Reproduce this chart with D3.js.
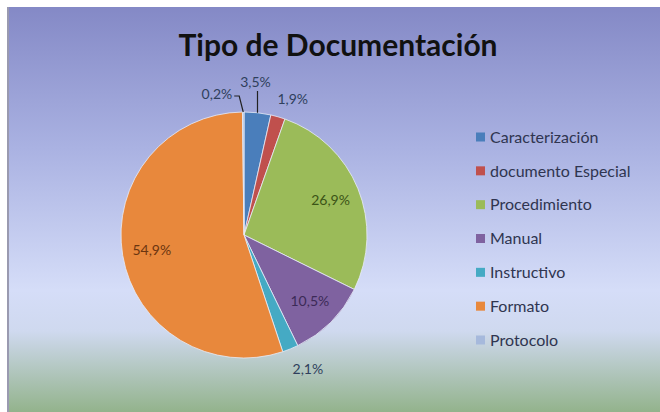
<!DOCTYPE html>
<html>
<head>
<meta charset="utf-8">
<script src="https://cdn.jsdelivr.net/npm/d3@7"></script>
<style>
  body { margin: 0; background: #fff; }
  svg { display: block; font-family: Lato, "Open Sans", sans-serif; }
</style>
</head>
<body>
<div id="chart"></div>
<script>
const categories = ["Caracterización", "documento Especial", "Procedimiento", "Manual", "Instructivo", "Formato", "Protocolo"]
const values = [3.5, 1.9, 26.9, 10.5, 2.1, 54.9, 0.2]
const colors = ["#4a7ebb", "#c0504d", "#9bbb59", "#7f62a0", "#45aac4", "#e8883c", "#a6b9dc"]
const labelColors = ["#2f3f5c", "#2f3f5c", "#3b5417", "#3c2a57", "#2f3f5c", "#6b3510", "#2f3f5c"]
const title = "Tipo de Documentación"

const width = 660
const height = 412
const cx = 244, cy = 235, r = 123

const svg = d3.select("#chart")
    .append("svg")
    .attr("width", width)
    .attr("height", height)

const defs = svg.append("defs")
const bg = defs.append("linearGradient")
    .attr("id", "bg-gradient")
    .attr("x1", "0%").attr("y1", "0%")
    .attr("x2", "0%").attr("y2", "100%")
bg.append("stop").attr("offset", "0%").attr("stop-color", "#8489c6")
bg.append("stop").attr("offset", "35%").attr("stop-color", "#aab2e2")
bg.append("stop").attr("offset", "70%").attr("stop-color", "#d5ddf8")
bg.append("stop").attr("offset", "80%").attr("stop-color", "#cfd9ef")
bg.append("stop").attr("offset", "100%").attr("stop-color", "#93b38c")

svg.append("rect")
    .attr("x", 7)
    .attr("y", 7)
    .attr("width", width - 7)
    .attr("height", height - 7)
    .style("fill", "url(#bg-gradient)")
svg.append("line")
    .attr("x1", 8).attr("x2", 8)
    .attr("y1", 7).attr("y2", height)
    .attr("stroke", "#9a9ab0")
    .attr("stroke-width", 2)

svg.append("text")
    .text(title)
    .attr("x", 338)
    .attr("y", 56)
    .attr("text-anchor", "middle")
    .attr("font-size", 30)
    .attr("font-weight", "bold")
    .attr("fill", "#111")

const pie = d3.pie().sort(null).value(d => d)
const arcs = pie(values)
const arc = d3.arc().innerRadius(0).outerRadius(r)

const g = svg.append("g").attr("transform", `translate(${cx},${cy})`)

g.selectAll("path")
    .data(arcs)
    .join("path")
    .attr("d", arc)
    .attr("fill", (d, i) => colors[i])
    .attr("stroke", "#e8ecf8")
    .attr("stroke-width", 0.8)

const fmt = v => d3.format(".1f")(v).replace(".", ",") + "%"
const mid = d => (d.startAngle + d.endAngle) / 2
const pt = (a, rr) => [Math.sin(a) * rr, -Math.cos(a) * rr]

// labels inside the big slices
const inside = [2, 3, 5]
inside.forEach(i => {
    const p = pt(mid(arcs[i]), r * 0.76)
    g.append("text")
        .text(fmt(values[i]))
        .attr("x", p[0])
        .attr("y", p[1])
        .attr("dy", "0.35em")
        .attr("text-anchor", "middle")
        .attr("font-size", 14)
        .attr("fill", labelColors[i])
})

// outside labels
const lbl = (i, x, y, anchor) => g.append("text")
    .text(fmt(values[i]))
    .attr("x", x)
    .attr("y", y)
    .attr("dy", "0.35em")
    .attr("text-anchor", anchor)
    .attr("font-size", 14)
    .attr("fill", labelColors[i])

// 3,5% with vertical leader
let e = pt(mid(arcs[0]), r)
g.append("path")
    .attr("d", `M${e[0]},${e[1]}V${-r - 21}`)
    .attr("stroke", "#222").attr("fill", "none").attr("stroke-width", 1.2)
lbl(0, e[0] - 2, -r - 30, "middle")

// 1,9%
let p1 = pt(mid(arcs[1]), r + 20)
lbl(1, p1[0] - 6, p1[1] + 2, "start")

// 2,1%
let p4 = pt(mid(arcs[4]), r + 20)
lbl(4, p4[0] + 10, p4[1] + 2, "middle")

// 0,2% with bent leader
e = pt(mid(arcs[6]), r)
g.append("path")
    .attr("d", `M${e[0]},${e[1]}L${e[0] - 4},${-r - 16}H${e[0] - 9}`)
    .attr("stroke", "#222").attr("fill", "none").attr("stroke-width", 1.2)
lbl(6, e[0] - 11, -r - 18, "end")

// legend
const legendY = d3.scalePoint().domain(categories).range([137, 340])
const legend = svg.append("g")
    .selectAll("g")
    .data(categories)
    .join("g")
    .attr("transform", d => `translate(476,${legendY(d)})`)
legend.append("rect")
    .attr("x", 0).attr("y", -4.5)
    .attr("width", 9).attr("height", 9)
    .attr("fill", (d, i) => colors[i])
legend.append("text")
    .text(d => d)
    .attr("x", 14)
    .attr("y", 0)
    .attr("dy", "0.36em")
    .attr("font-size", 16)
    .attr("fill", "#2f3550")
</script>
</body>
</html>
